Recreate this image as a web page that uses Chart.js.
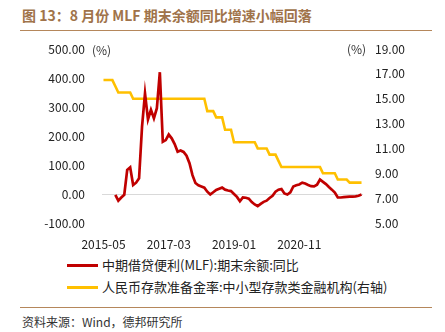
<!DOCTYPE html>
<html>
<head>
<meta charset="utf-8">
<script src="https://cdn.jsdelivr.net/npm/chart.js@4"></script>
<style>
  body { margin: 0; width: 445px; height: 332px; background: #fff; position: relative; overflow: hidden;
         font-family: "Noto Sans CJK SC", "Noto Sans", sans-serif; }
  #title { position: absolute; left: 22px; top: 5px; font-size: 14px; font-weight: bold; color: #a0734a; white-space: nowrap; }
  .rule { position: absolute; left: 20px; width: 412px; height: 0; border-top: 1.5px solid #b5875b; }
  #chartBox { position: absolute; left: 0; top: 0; width: 445px; height: 250px; }
  .unit { position: absolute; font-size: 12px; color: #333; line-height: 16px; white-space: nowrap; z-index: 5; }
  .legend { position: absolute; left: 67px; font-size: 13px; color: #222; white-space: nowrap; height: 18px; line-height: 18px; }
  .legend span.swatch { display: inline-block; width: 31px; height: 3px; vertical-align: middle; margin-right: 4px; position: relative; top: -1px; }
  #source { position: absolute; left: 22px; top: 313px; font-size: 12px; color: #333; white-space: nowrap; line-height: 18px; }
</style>
</head>
<body>
<div id="title">图 13：8 月份 MLF 期末余额同比增速小幅回落</div>
<div class="rule" style="top:30px"></div>
<div id="chartBox"><canvas id="chart" width="445" height="250"></canvas></div>
<div class="unit" id="unitL" style="left:90px;top:42px;background:#fff;padding:0 2px">(%)</div>
<div class="unit" style="left:347px;top:41px">(%)</div>
<div class="legend" style="top:256px"><span class="swatch" style="background:#c00000"></span>中期借贷便利(MLF):期末余额:同比</div>
<div class="legend" style="top:278px"><span class="swatch" style="background:#ffc000"></span>人民币存款准备金率:中小型存款类金融机构(右轴)</div>
<div class="rule" style="top:307px"></div>
<div id="source">资料来源：Wind，德邦研究所</div>

<script>
// monthly categories, 2015-05 .. 2022-08
const months = [];
for (let y = 2015, m = 5; y < 2022 || (y === 2022 && m <= 8); m++) {
  if (m > 12) { m = 1; y++; }
  months.push(y + '-' + String(m).padStart(2, '0'));
}

// MLF outstanding, yoy %
const mlfYoy = [
  null, null, null, null, -3, -23, -12, -3, 83, 92,
  31, 39, 54, 232, 347, 257, 290, 261, 296, 420,
  180, 186, 205, 192, 172, 146, 150, 145, 132, 106,
  65, 38, 30, 26, 22, 8, -2, 6, 14, 18,
  22, 15, 12, 10, 0, -10, -25, -12, -13, -16,
  -28, -36, -42, -34, -27, -23, -14, -6, 8, 15,
  17, 2, -2, 6, 26, 30, 33, 39, 36, 31,
  27, 26, 32, 50, 42, 34, 24, 15, 5, -12,
  -12, -11, -10, -9, -9, -8, -6, -2
];

// RRR for small and medium deposit institutions, % (right axis)
const rrrSmall = [
  16.5, 16.5, 16.5, 16.5, 16.0, 15.5, 15.5, 15.5, 15.5, 15.5,
  15.0, 15.0, 15.0, 15.0, 15.0, 15.0, 15.0, 15.0, 15.0, 15.0,
  15.0, 15.0, 15.0, 15.0, 15.0, 15.0, 15.0, 15.0, 15.0, 15.0,
  15.0, 15.0, 15.0, 15.0, 15.0, 14.0, 14.0, 14.0, 13.5, 13.5,
  13.5, 12.5, 12.5, 12.5, 11.5, 11.5, 11.5, 11.5, 11.5, 11.5,
  11.5, 11.5, 11.0, 11.0, 11.0, 11.0, 10.5, 10.5, 10.5, 10.0,
  9.5, 9.5, 9.5, 9.5, 9.5, 9.5, 9.5, 9.5, 9.5, 9.5,
  9.5, 9.5, 9.5, 9.5, 9.0, 9.0, 9.0, 9.0, 9.0, 8.5,
  8.5, 8.5, 8.5, 8.25, 8.25, 8.25, 8.25, 8.25
];

const tickFont = { family: '"Noto Sans CJK SC", sans-serif', size: 12 };

new Chart(document.getElementById('chart'), {
  type: 'line',
  data: {
    labels: months,
    datasets: [
      {
        label: '中期借贷便利(MLF):期末余额:同比',
        data: mlfYoy,
        borderColor: '#c00000',
        borderWidth: 2.7,
        pointRadius: 0,
        tension: 0,
        yAxisID: 'y'
      },
      {
        label: '人民币存款准备金率:中小型存款类金融机构(右轴)',
        data: rrrSmall,
        borderColor: '#ffc000',
        borderWidth: 2.6,
        pointRadius: 0,
        tension: 0,
        yAxisID: 'y1'
      }
    ]
  },
  options: {
    responsive: false,
    animation: false,
    layout: { padding: { top: 49 } },
    plugins: {
      legend: { display: false },
      tooltip: { enabled: false }
    },
    scales: {
      x: {
        offset: true,
        grid: { display: false },
        border: { display: false },
        ticks: {
          autoSkip: false,
          maxRotation: 0,
          padding: 6,
          color: '#222',
          font: tickFont,
          callback: (v, i) => (i % 22 === 0 ? months[i] : '')
        },
        afterFit: s => { s.height = 27; }
      },
      y: {
        position: 'left',
        min: -100,
        max: 500,
        ticks: {
          stepSize: 100,
          padding: 17,
          color: '#222',
          font: tickFont,
          callback: v => v.toFixed(2)
        },
        grid: {
          drawTicks: false,
          color: c => (c.tick && c.tick.value === 0 ? '#d9d9d9' : 'rgba(0,0,0,0)')
        },
        border: { display: false },
        afterFit: s => { s.width = 102; }
      },
      y1: {
        position: 'right',
        min: 5,
        max: 19,
        ticks: {
          stepSize: 2,
          padding: 12,
          color: '#222',
          font: tickFont,
          callback: v => v.toFixed(2)
        },
        grid: { display: false, drawTicks: false },
        border: { display: false },
        afterFit: s => { s.width = 82; }
      }
    }
  }
});
</script>
</body>
</html>
